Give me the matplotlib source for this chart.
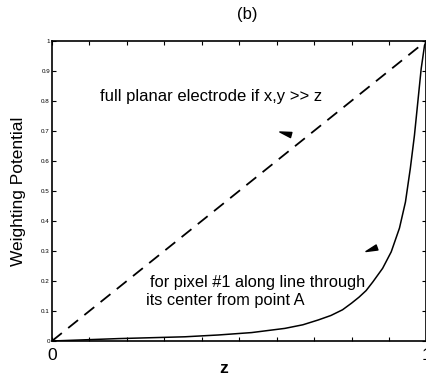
import matplotlib

matplotlib.use("Agg")
import matplotlib.pyplot as plt
from matplotlib.markers import MarkerStyle
from matplotlib.path import Path
from matplotlib.transforms import Affine2D

plt.rcParams["font.family"] = ["Liberation Sans", "DejaVu Sans"]

# planar-electrode limit (dashed)
planar_z = [0.0, 1.0]
planar_v = [0.0, 1.0]

# pixel #1 weighting potential along the line (solid)
pixel_z = [0.0, 0.089, 0.178, 0.267, 0.355, 0.444, 0.533, 0.622, 0.670,
           0.711, 0.745, 0.776, 0.800, 0.820, 0.839, 0.857, 0.883, 0.906,
           0.928, 0.944, 0.957, 0.968, 0.977, 0.986, 0.995, 1.0]
pixel_v = [0.0, 0.004, 0.008, 0.011, 0.014, 0.020, 0.028, 0.042, 0.054,
           0.070, 0.085, 0.104, 0.126, 0.146, 0.168, 0.197, 0.242, 0.297,
           0.376, 0.463, 0.575, 0.685, 0.796, 0.907, 0.985, 1.0]

# arrowheads: position and pointing direction (deg)
arrow_z = [0.621, 0.852]
arrow_v = [0.693, 0.305]
arrow_dir = [165, 200]

y_ticks = [0, 0.1, 0.2, 0.3, 0.4, 0.5, 0.6, 0.7, 0.8, 0.9, 1]
y_tick_labels = ["0", "0.1", "0.2", "0.3", "0.4", "0.5", "0.6", "0.7", "0.8", "0.9", "1"]
x_ticks = [0, 0.1, 0.2, 0.3, 0.4, 0.5, 0.6, 0.7, 0.8, 0.9, 1]
x_tick_labels = ["0", "", "", "", "", "", "", "", "", "", "1"]

fig = plt.figure(figsize=(4.26, 3.81), dpi=100)
ax = fig.add_axes([0.122, 0.105, 0.879, 0.788])

ax.plot(planar_z, planar_v, color="black", lw=1.3, linestyle=(0, (7, 4.5)))
ax.plot(pixel_z, pixel_v, color="black", lw=1.1)

# wedge-shaped arrowhead, tip at +x
wedge = Path([(1.0, 0.0), (-1.0, 0.45), (-1.0, -0.45), (1.0, 0.0)],
             [Path.MOVETO, Path.LINETO, Path.LINETO, Path.CLOSEPOLY])
for az, av, ad in zip(arrow_z, arrow_v, arrow_dir):
    m = MarkerStyle(wedge, transform=Affine2D().rotate_deg(ad))
    ax.plot([az], [av], marker=m, color="black", ms=8.5, lw=0)

ax.set_xlim(0, 1)
ax.set_ylim(0, 1)
ax.set_yticks(y_ticks)
ax.set_yticklabels(y_tick_labels, fontsize=4.5)
ax.set_xticks(x_ticks)
ax.set_xticklabels(x_tick_labels, fontsize=12.5)
ax.tick_params(direction="in", top=True, right=True, length=3, width=0.8)
ax.tick_params(axis="y", pad=1.5)
ax.tick_params(axis="x", pad=5)
for s in ax.spines.values():
    s.set_linewidth(1.2)

ax.set_xlabel("z", fontsize=12.5, fontweight="bold")
ax.xaxis.set_label_coords(0.459, -0.068)
ax.set_ylabel("Weighting Potential", fontsize=12.5)
ax.yaxis.set_label_coords(-0.069, 0.5)
fig.text(0.58, 0.963, "(b)", fontsize=12, ha="center", va="center")

ax.text(0.128, 0.815, "full planar electrode if x,y >> z", fontsize=12,
        va="center", ha="left")
ax.text(0.261, 0.195, "for pixel #1 along line through", fontsize=11.8,
        va="center", ha="left")
ax.text(0.250, 0.135, "its center from point A", fontsize=11.8,
        va="center", ha="left")

fig.savefig("out.png", dpi=100)
